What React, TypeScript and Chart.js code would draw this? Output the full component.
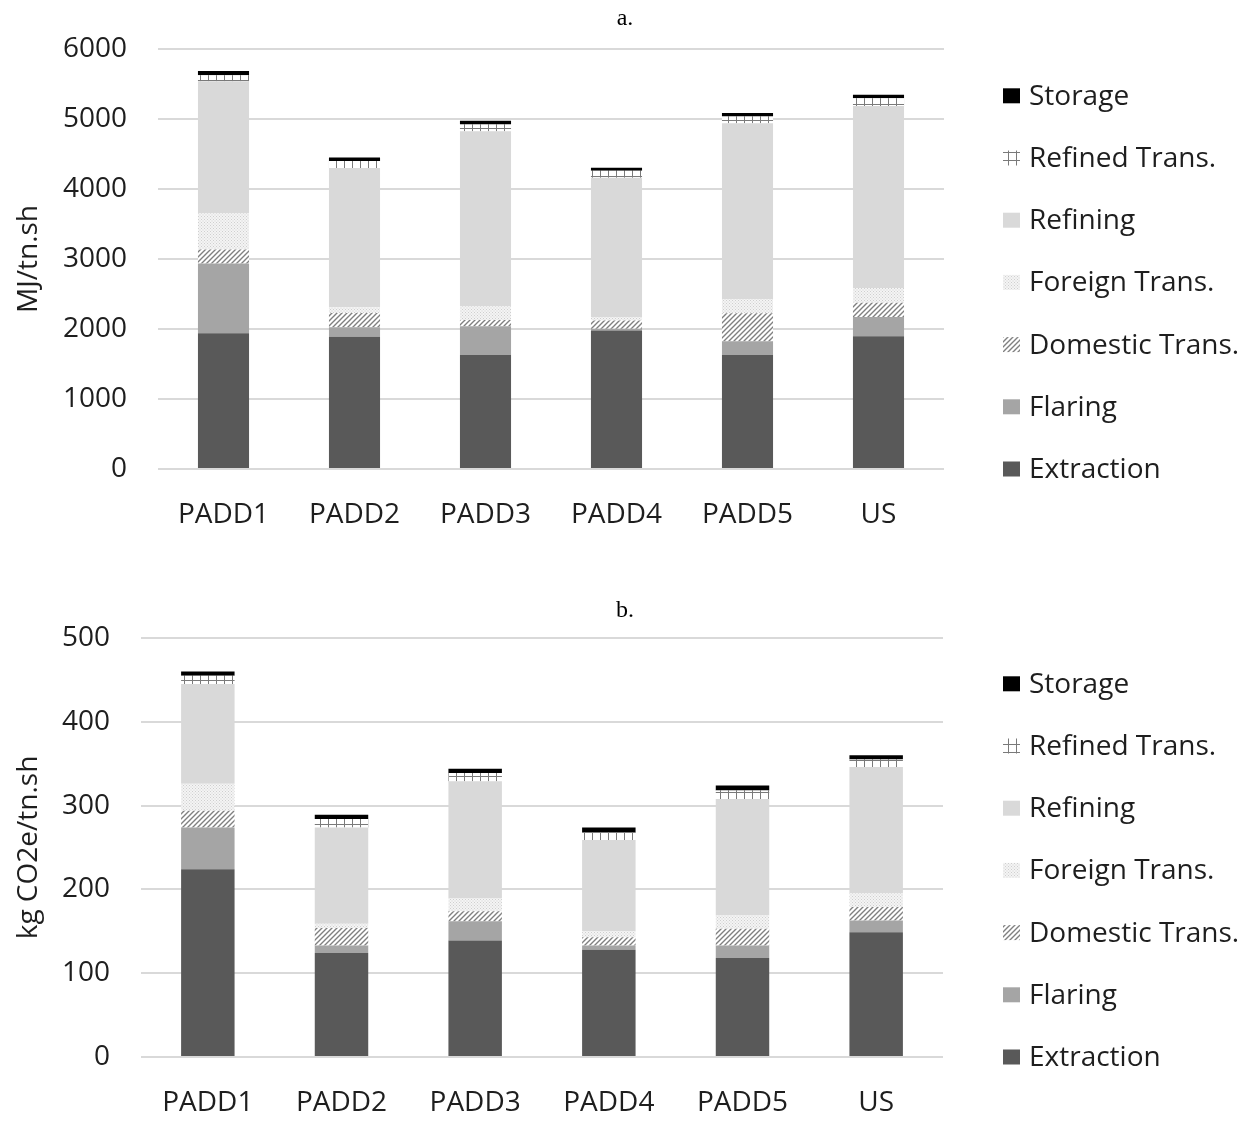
import React, { useEffect, useRef } from 'react';
import { Chart, registerables } from 'chart.js';
Chart.register(...registerables);

const categories = ['PADD1', 'PADD2', 'PADD3', 'PADD4', 'PADD5', 'US'];
const seriesNames = ['Extraction', 'Flaring', 'Domestic Trans.', 'Foreign Trans.', 'Refining', 'Refined Trans.', 'Storage'];

// Panel a. (MJ/tn.sh)
const energyExtraction = [1940, 1890, 1630, 1980, 1630, 1895];
const energyFlaring = [995, 135, 410, 25, 195, 275];
const energyDomestic = [200, 205, 90, 115, 400, 205];
const energyForeign = [515, 80, 190, 50, 205, 210];
const energyRefining = [1890, 1990, 2505, 1990, 2510, 2600];
const energyRefinedTrans = [85, 100, 95, 100, 95, 110];
const energyStorage = [60, 50, 55, 45, 50, 50];
const energyTicks = [0, 1000, 2000, 3000, 4000, 5000, 6000];

// Panel b. (kg CO2e/tn.sh)
const ghgExtraction = [224, 124, 139, 128, 118, 149];
const ghgFlaring = [50, 9, 23, 5, 15, 14];
const ghgDomestic = [20, 21, 12, 10, 20, 16];
const ghgForeign = [32, 5, 15, 7, 16, 16];
const ghgRefining = [119, 115, 140, 109, 139, 151];
const ghgRefinedTrans = [10, 10, 10, 9, 10, 9];
const ghgStorage = [5, 5, 5, 6, 6, 5];
const ghgTicks = [0, 100, 200, 300, 400, 500];

const FONT = '"Open Sans", "Noto Sans", sans-serif';
const FONT_SIZE = 28;
const TEXT_COLOR = '#1e1e1e';

function makePattern(kind: string): CanvasPattern | string {
  const c = document.createElement('canvas');
  const ctx = c.getContext('2d')!;
  if (kind === 'diag') {
    c.width = 5; c.height = 5;
    ctx.fillStyle = '#ffffff';
    ctx.fillRect(0, 0, 5, 5);
    ctx.strokeStyle = '#808080';
    ctx.lineWidth = 1.4;
    ctx.beginPath();
    for (const o of [-5, 0, 5]) {
      ctx.moveTo(o - 1, 6);
      ctx.lineTo(o + 6, -1);
    }
    ctx.stroke();
  } else if (kind === 'dots') {
    c.width = 3; c.height = 3;
    ctx.fillStyle = '#f4f4f4';
    ctx.fillRect(0, 0, 3, 3);
    ctx.fillStyle = '#cfcfcf';
    ctx.fillRect(0, 0, 1, 1);
    ctx.fillRect(1.5, 1.5, 1, 1);
  } else if (kind === 'grid') {
    c.width = 8; c.height = 8;
    ctx.fillStyle = '#ffffff';
    ctx.fillRect(0, 0, 8, 8);
    ctx.strokeStyle = '#7a7a7a';
    ctx.lineWidth = 1;
    ctx.beginPath();
    ctx.moveTo(0.5, 0); ctx.lineTo(0.5, 8);
    ctx.moveTo(0, 0.5); ctx.lineTo(8, 0.5);
    ctx.stroke();
  }
  return ctx.createPattern(c, 'repeat') || '#cccccc';
}

const customLegend = {
  id: 'customLegend',
  afterDraw(chart: any, _args: any, opts: any) {
    const { ctx, chartArea } = chart;
    ctx.save();
    ctx.font = '24px "Liberation Serif", serif';
    ctx.fillStyle = '#000';
    ctx.textAlign = 'center';
    ctx.textBaseline = 'alphabetic';
    ctx.fillText(opts.title, opts.titleX, opts.titleY);
    ctx.font = `${FONT_SIZE}px ${FONT}`;
    ctx.textAlign = 'left';
    ctx.textBaseline = 'middle';
    const ds = chart.data.datasets;
    for (let i = 0; i < ds.length; i++) {
      const y = chartArea.bottom - i * opts.spacing;
      ctx.fillStyle = ds[i].backgroundColor;
      ctx.fillRect(opts.x, y - 7.5, 17, 15);
      ctx.fillStyle = TEXT_COLOR;
      ctx.fillText(ds[i].label, opts.x + 26, y + 1);
    }
    ctx.restore();
  },
};

interface PanelCfg {
  series: number[][];
  ticks: number[];
  yTitle: string;
  title: string;
  titleY: number;
  padTop: number;
  axisWidth: number;
  padRight: number;
  xAxisHeight: number;
  barPct: number;
}

function makeChart(canvas: HTMLCanvasElement, p: PanelCfg) {
  const fills = ['#595959', '#a5a5a5', makePattern('diag'), makePattern('dots'), '#d9d9d9', makePattern('grid'), '#000000'];
  const datasets = seriesNames.map((name, i) => ({
    label: name,
    data: p.series[i],
    backgroundColor: fills[i] as any,
    borderWidth: 0,
    barPercentage: p.barPct,
    categoryPercentage: 1,
  }));
  return new Chart(canvas, {
    type: 'bar',
    data: { labels: categories, datasets },
    plugins: [customLegend],
    options: {
      responsive: false,
      animation: false,
      devicePixelRatio: 1,
      layout: { padding: { left: 0, right: p.padRight, top: p.padTop, bottom: 0 } },
      plugins: {
        legend: { display: false },
        tooltip: { enabled: false },
        customLegend: { title: p.title, titleX: 625, titleY: p.titleY, x: 1003, spacing: 62.2 },
      } as any,
      scales: {
        x: {
          stacked: true,
          grid: { display: false },
          border: { display: false },
          ticks: { font: { family: FONT, size: FONT_SIZE }, color: TEXT_COLOR, padding: 21 },
          afterFit: (axis: any) => { axis.height = p.xAxisHeight; },
        },
        y: {
          stacked: true,
          min: p.ticks[0],
          max: p.ticks[p.ticks.length - 1],
          grid: { color: '#d9d9d9', lineWidth: 2, drawTicks: false },
          border: { display: false },
          ticks: {
            stepSize: p.ticks[1] - p.ticks[0],
            font: { family: FONT, size: FONT_SIZE },
            color: TEXT_COLOR,
            padding: 31,
            callback: (v: any) => String(v),
          },
          title: {
            display: true,
            text: p.yTitle,
            font: { family: FONT, size: FONT_SIZE },
            color: TEXT_COLOR,
            padding: { top: 12, bottom: 0 },
          },
          afterFit: (axis: any) => { axis.width = p.axisWidth; },
        },
      },
    },
  });
}

export default function App() {
  const topRef = useRef<HTMLCanvasElement>(null);
  const botRef = useRef<HTMLCanvasElement>(null);
  useEffect(() => {
    const c1 = makeChart(topRef.current!, {
      series: [energyExtraction, energyFlaring, energyDomestic, energyForeign, energyRefining, energyRefinedTrans, energyStorage],
      ticks: energyTicks,
      yTitle: 'MJ/tn.sh',
      title: 'a.',
      titleY: 25,
      padTop: 49,
      axisWidth: 158,
      padRight: 1254 - 944,
      xAxisHeight: 91,
      barPct: 0.39,
    });
    const c2 = makeChart(botRef.current!, {
      series: [ghgExtraction, ghgFlaring, ghgDomestic, ghgForeign, ghgRefining, ghgRefinedTrans, ghgStorage],
      ticks: ghgTicks,
      yTitle: 'kg CO2e/tn.sh',
      title: 'b.',
      titleY: 57,
      padTop: 78,
      axisWidth: 141,
      padRight: 1254 - 943,
      xAxisHeight: 64,
      barPct: 0.4,
    });
    return () => { c1.destroy(); c2.destroy(); };
  }, []);
  return (
    <div style={{ position: 'absolute', left: 0, top: 0, width: 1254, height: 1121, background: '#fff' }}>
      <canvas ref={topRef} width={1254} height={560} style={{ position: 'absolute', left: 0, top: 0 }} />
      <canvas ref={botRef} width={1254} height={561} style={{ position: 'absolute', left: 0, top: 560 }} />
    </div>
  );
}
